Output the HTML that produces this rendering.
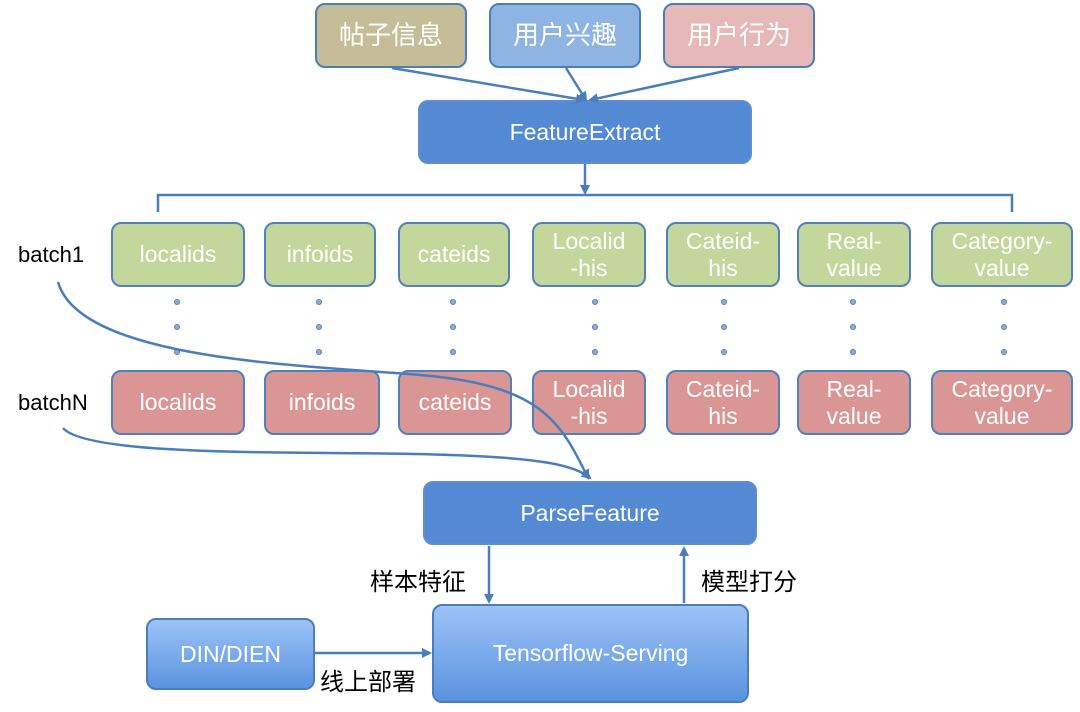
<!DOCTYPE html>
<html><head><meta charset="utf-8"><style>
body{margin:0;width:1080px;height:712px;background:#fff;position:relative;overflow:hidden;font-family:"Liberation Sans","Noto Sans CJK SC",sans-serif}
.b{position:absolute;box-sizing:border-box;border:2px solid #4a7ebb;border-radius:10px;color:#fff;display:flex;align-items:center;justify-content:center;text-align:center;font-size:23px;line-height:27px}
.g{background:#c3d69b;border-color:#4f81bd}
.r{background:#d99694;border-color:#4f81bd}
.d{background:#538ad3;border-color:#5f8ed0}
.t{position:absolute;font-size:22px;color:#000}
.dot{position:absolute;width:6px;height:6px;border-radius:50%;background:#8eaadb;border:1px solid #4f81bd;box-sizing:border-box}
</style></head><body>
<div class="b" style="left:315px;top:3px;width:152px;height:65px;background:#c4bd97;font-size:26px">帖子信息</div>
<div class="b" style="left:489px;top:3px;width:152px;height:65px;background:#8eb4e3;font-size:26px">用户兴趣</div>
<div class="b" style="left:663px;top:3px;width:152px;height:65px;background:#e6b9b8;font-size:26px">用户行为</div>
<div class="b d" style="left:418px;top:100px;width:334px;height:64px">FeatureExtract</div>
<div class="b g" style="left:111px;top:222px;width:134px;height:65px">localids</div>
<div class="b g" style="left:264px;top:222px;width:112px;height:65px">infoids</div>
<div class="b g" style="left:398px;top:222px;width:112px;height:65px">cateids</div>
<div class="b g" style="left:532px;top:222px;width:114px;height:65px">Localid<br>-his</div>
<div class="b g" style="left:666px;top:222px;width:114px;height:65px">Cateid-<br>his</div>
<div class="b g" style="left:797px;top:222px;width:114px;height:65px">Real-<br>value</div>
<div class="b g" style="left:931px;top:222px;width:142px;height:65px">Category-<br>value</div>
<div class="b r" style="left:111px;top:370px;width:134px;height:65px">localids</div>
<div class="b r" style="left:264px;top:370px;width:116px;height:65px">infoids</div>
<div class="b r" style="left:398px;top:370px;width:114px;height:65px">cateids</div>
<div class="b r" style="left:532px;top:370px;width:114px;height:65px">Localid<br>-his</div>
<div class="b r" style="left:666px;top:370px;width:114px;height:65px">Cateid-<br>his</div>
<div class="b r" style="left:797px;top:370px;width:114px;height:65px">Real-<br>value</div>
<div class="b r" style="left:931px;top:370px;width:142px;height:65px">Category-<br>value</div>
<div class="t" style="left:18px;top:242px">batch1</div>
<div class="t" style="left:18px;top:390px">batchN</div>
<div class="b d" style="left:423px;top:481px;width:334px;height:64px">ParseFeature</div>
<div class="b" style="left:432px;top:604px;width:317px;height:99px;background:linear-gradient(#9dc3f7,#5b93df)">Tensorflow-Serving</div>
<div class="b" style="left:146px;top:618px;width:169px;height:72px;background:linear-gradient(#9dc3f7,#5b93df)">DIN/DIEN</div>
<div class="t" style="left:370px;top:562px;font-size:24px">样本特征</div>
<div class="t" style="left:701px;top:562px;font-size:24px">模型打分</div>
<div class="t" style="left:320px;top:662px;font-size:24px">线上部署</div>
<div id="dots"></div>
<svg width="1080" height="712" style="position:absolute;left:0;top:0">
<defs><marker id="a" markerWidth="10" markerHeight="10" refX="8" refY="5" orient="auto" markerUnits="userSpaceOnUse"><path d="M0,0 L10,5 L0,10 z" fill="#4a7ebb"/></marker></defs>
<g stroke="#4a7ebb" stroke-width="2.5" fill="none">
<line x1="392" y1="68" x2="584" y2="100" marker-end="url(#a)"/>
<line x1="566" y1="68" x2="586" y2="100" marker-end="url(#a)"/>
<line x1="739" y1="68" x2="590" y2="100" marker-end="url(#a)"/>
<line x1="585" y1="164" x2="585" y2="193" marker-end="url(#a)"/>
<polyline points="158,212 158,195 1012,195 1012,212"/>
<path d="M58,282 C80,360 300,365 420,375 C540,385 560,420 588,478" marker-end="url(#a)"/>
<path d="M63,428 C90,460 350,450 450,455 C540,458 575,465 590,478" marker-end="url(#a)"/>
<line x1="489" y1="546" x2="489" y2="602" marker-end="url(#a)"/>
<line x1="684" y1="603" x2="684" y2="548" marker-end="url(#a)"/>
<line x1="315" y1="653" x2="430" y2="653" marker-end="url(#a)"/>
</g></svg>
<script>
var xs=[177,319,453,595,724,853,1004],ys=[302,327,352],h='';
xs.forEach(function(x){ys.forEach(function(y){h+='<div class="dot" style="left:'+(x-3)+'px;top:'+(y-3)+'px"></div>'})});
document.getElementById('dots').innerHTML=h;
</script>
</body></html>
